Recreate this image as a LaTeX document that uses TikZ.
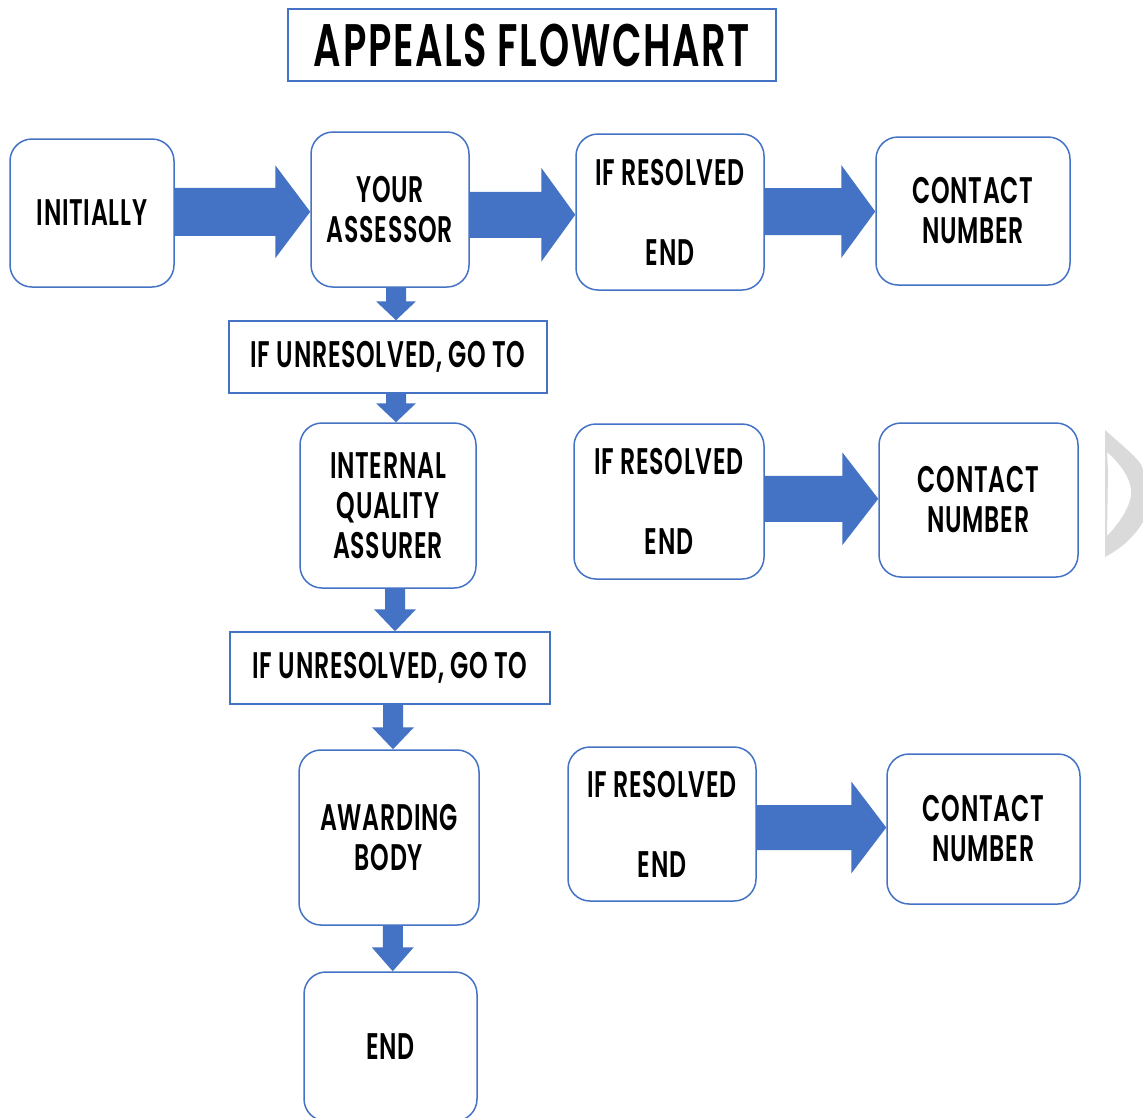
\documentclass[tikz,border=0pt]{standalone}
\usepackage{fontspec}
\setmainfont[FakeStretch=0.64, LetterSpace=2]{Poppins SemiBold}
\usetikzlibrary{calc}
\definecolor{obl}{HTML}{4472C4}
\definecolor{ghost}{HTML}{DADADA}
\newcommand\bodyfont{\fontsize{37}{40}\selectfont}
\newcommand\titlefont{\addfontfeature{LetterSpace=2.8}\fontsize{60}{64}\selectfont}
% horizontal block arrow: from, to, head length, shaft half, head half, y offset (down)
\newcommand\harrow[6]{%
  \path[blockarrow] let \p1=(#1.east), \p2=(#2.west) in
    (\x1, {(\y1+\y2)/2-#6pt+#4pt}) -- (\x2-#3pt, {(\y1+\y2)/2-#6pt+#4pt})
    -- (\x2-#3pt, {(\y1+\y2)/2-#6pt+#5pt}) -- (\x2, {(\y1+\y2)/2-#6pt})
    -- (\x2-#3pt, {(\y1+\y2)/2-#6pt-#5pt}) -- (\x2-#3pt, {(\y1+\y2)/2-#6pt-#4pt})
    -- (\x1, {(\y1+\y2)/2-#6pt-#4pt}) -- cycle;}
% vertical block arrow: from, to, head length, shaft half, head half, x offset (right)
\newcommand\varrow[6]{%
  \path[blockarrow] let \p1=(#1.south), \p2=(#2.north) in
    ({(\x1+\x2)/2+#6pt-#4pt}, \y1) -- ({(\x1+\x2)/2+#6pt-#4pt}, \y2+#3pt)
    -- ({(\x1+\x2)/2+#6pt-#5pt}, \y2+#3pt) -- ({(\x1+\x2)/2+#6pt}, \y2)
    -- ({(\x1+\x2)/2+#6pt+#5pt}, \y2+#3pt) -- ({(\x1+\x2)/2+#6pt+#4pt}, \y2+#3pt)
    -- ({(\x1+\x2)/2+#6pt+#4pt}, \y1) -- cycle;}
\begin{document}
\begin{tikzpicture}[x=1pt,y=-1pt,
  rbox/.style={draw=obl, line width=1.5pt, rounded corners=22pt, fill=white,
    align=center, inner sep=0pt, font=\bodyfont},
  sbox/.style={draw=obl, line width=1.5pt, fill=white,
    align=center, inner sep=0pt, font=\bodyfont},
  blockarrow/.style={fill=obl, draw=none}]
\useasboundingbox (0,0) rectangle (1143,1117);
\fill[white] (0,0) rectangle (1143,1117);

% title
\node[sbox, font=\titlefont, minimum width=488pt, minimum height=72pt] (title) at (532,45) {APPEALS FLOWCHART};

% row 1
\node[rbox, minimum width=164pt, minimum height=148pt] (init) at (92,213) {INITIALLY};
\node[rbox, minimum width=158pt, minimum height=155pt] (assessor) at (390,209.5) {YOUR\\ASSESSOR};
\node[rbox, minimum width=188pt, minimum height=156pt] (res1) at (670,212) {IF RESOLVED\\[40pt]END};
\node[rbox, minimum width=194pt, minimum height=148pt] (contact1) at (973,211) {CONTACT\\NUMBER};

% column
\node[sbox, minimum width=318pt, minimum height=72pt] (unres1) at (388,357) {IF UNRESOLVED, GO TO};
\node[rbox, minimum width=176pt, minimum height=165pt] (iqa) at (388,505.5) {INTERNAL\\QUALITY\\ASSURER};
\node[sbox, minimum width=320pt, minimum height=72pt] (unres2) at (390,668) {IF UNRESOLVED, GO TO};
\node[rbox, minimum width=180pt, minimum height=175pt] (award) at (389,837.5) {AWARDING\\BODY};
\node[rbox, minimum width=173pt, minimum height=149pt] (endbox) at (390.5,1046.5) {END};

% row 2
\node[rbox, minimum width=190pt, minimum height=155pt] (res2) at (669,501.5) {IF RESOLVED\\[40pt]END};
\node[rbox, minimum width=199pt, minimum height=154pt] (contact2) at (978.5,500) {CONTACT\\NUMBER};

% row 3
\node[rbox, minimum width=188pt, minimum height=154pt] (res3) at (662,824) {IF RESOLVED\\[40pt]END};
\node[rbox, minimum width=193pt, minimum height=150pt] (contact3) at (983.5,829) {CONTACT\\NUMBER};

% horizontal arrows
\harrow{init}{assessor}{35}{24}{46.5}{0.5}
\harrow{assessor}{res1}{34}{23}{47}{4}
\harrow{res1}{contact1}{34}{23.5}{46.5}{0}
\harrow{res2}{contact2}{36}{23}{46.5}{-2}
\harrow{res3}{contact3}{35}{22.5}{46}{1}

% vertical arrows
\varrow{assessor}{unres1}{19}{10}{20}{7}
\varrow{unres1}{iqa}{19}{10}{20}{8}
\varrow{iqa}{unres2}{22}{10}{21}{6}
\varrow{unres2}{award}{22}{10}{21}{3.5}
\varrow{award}{endbox}{24}{10}{21}{3}

% light grey mark at the right edge
\fill[ghost, even odd rule] (1105,430) .. controls (1125,448) and (1143,462) .. (1143,470)
  -- (1143,522) .. controls (1132,540) and (1118,550) .. (1105,557) -- cycle
  (1107,452) .. controls (1122,465) and (1133,482) .. (1131,496)
  .. controls (1128,512) and (1115,528) .. (1107,536) -- (1108,470) -- cycle;
\end{tikzpicture}
\end{document}
